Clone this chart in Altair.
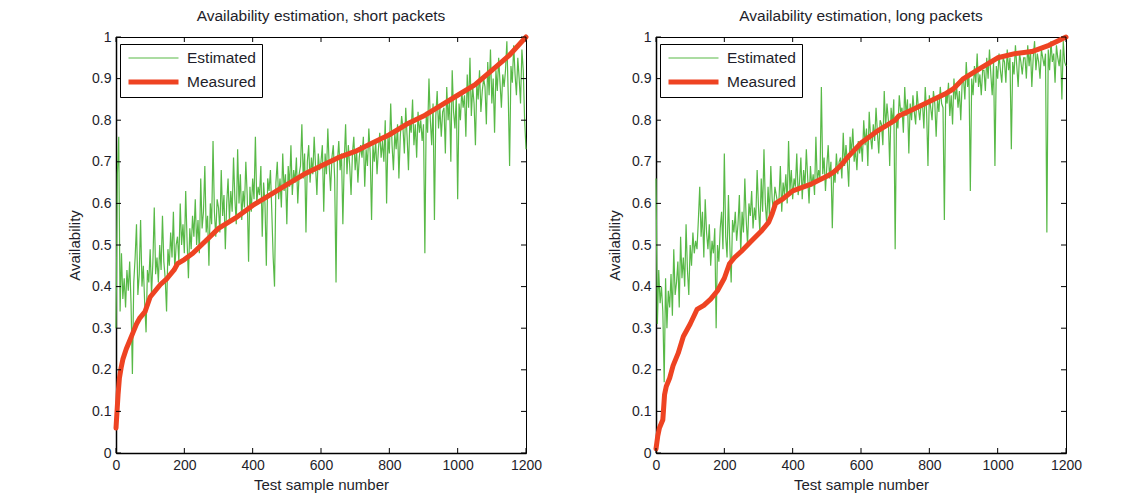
import altair as alt
import pandas as pd

# ---------------- data ----------------
x_est = list(range(0, 1201, 4))

short_est = [
    0.30, 0.67, 0.76, 0.34, 0.48, 0.37, 0.42, 0.35, 0.44, 0.39, 0.46, 0.36, 0.19, 0.41, 0.47,
    0.55, 0.38, 0.43, 0.56, 0.40, 0.45, 0.36, 0.29, 0.44, 0.41, 0.49, 0.38, 0.46, 0.59, 0.43,
    0.47, 0.41, 0.50, 0.44, 0.57, 0.46, 0.42, 0.34, 0.49, 0.45, 0.53, 0.47, 0.58, 0.44, 0.50,
    0.52, 0.46, 0.60, 0.50, 0.55, 0.48, 0.63, 0.51, 0.42, 0.54, 0.49, 0.57, 0.52, 0.61, 0.50,
    0.56, 0.48, 0.66, 0.54, 0.58, 0.69, 0.53, 0.57, 0.45, 0.60, 0.55, 0.75, 0.58, 0.52, 0.61,
    0.59, 0.53, 0.68, 0.57, 0.62, 0.49, 0.60, 0.66, 0.56, 0.63, 0.58, 0.71, 0.61, 0.55, 0.73,
    0.60, 0.67, 0.56, 0.63, 0.59, 0.70, 0.62, 0.46, 0.64, 0.58, 0.66, 0.61, 0.76, 0.60, 0.64,
    0.62, 0.69, 0.52, 0.65, 0.60, 0.45, 0.66, 0.63, 0.68, 0.58, 0.47, 0.40, 0.65, 0.70, 0.61,
    0.66, 0.59, 0.72, 0.63, 0.67, 0.55, 0.69, 0.64, 0.74, 0.62, 0.68, 0.65, 0.71, 0.60, 0.67,
    0.69, 0.79, 0.66, 0.72, 0.53, 0.70, 0.74, 0.65, 0.71, 0.67, 0.76, 0.69, 0.62, 0.72, 0.68,
    0.70, 0.74, 0.58, 0.72, 0.67, 0.78, 0.69, 0.63, 0.71, 0.74, 0.66, 0.41, 0.70, 0.75, 0.68,
    0.72, 0.55, 0.70, 0.79, 0.67, 0.74, 0.69, 0.62, 0.72, 0.76, 0.68, 0.73, 0.65, 0.71, 0.74,
    0.71, 0.76, 0.64, 0.73, 0.69, 0.78, 0.72, 0.56, 0.74, 0.70, 0.75, 0.67, 0.73, 0.77, 0.71,
    0.75, 0.70, 0.80, 0.60, 0.76, 0.72, 0.84, 0.74, 0.68, 0.77, 0.73, 0.79, 0.66, 0.76, 0.81,
    0.78, 0.72, 0.83, 0.76, 0.68, 0.80, 0.77, 0.85, 0.74, 0.79, 0.71, 0.82, 0.77, 0.80, 0.75,
    0.79, 0.48, 0.82, 0.77, 0.90, 0.80, 0.74, 0.84, 0.56, 0.81, 0.87, 0.78, 0.83, 0.76, 0.82,
    0.83, 0.72, 0.88, 0.80, 0.85, 0.70, 0.92, 0.82, 0.78, 0.86, 0.61, 0.84, 0.80, 0.87, 0.83,
    0.86, 0.76, 0.91, 0.83, 0.95, 0.81, 0.88, 0.84, 0.74, 0.89, 0.85, 0.92, 0.82, 0.87, 0.90,
    0.88, 0.79, 0.94, 0.86, 0.97, 0.84, 0.90, 0.77, 0.92, 0.87, 0.95, 0.89, 0.83, 0.91, 0.88,
    0.92, 0.99, 0.86, 0.69, 0.93, 0.89, 0.98, 0.91, 0.86, 0.95, 0.90, 0.84, 0.97, 0.92, 0.80,
    0.73,
]

long_est = [
    0.66, 0.31, 0.44, 0.36, 0.40, 0.34, 0.17, 0.42, 0.30, 0.39, 0.35, 0.43, 0.33, 0.49, 0.38,
    0.41, 0.46, 0.35, 0.52, 0.42, 0.47, 0.40, 0.55, 0.44, 0.38, 0.50, 0.45, 0.53, 0.48, 0.51,
    0.49, 0.56, 0.64, 0.52, 0.58, 0.47, 0.61, 0.53, 0.49, 0.55, 0.45, 0.51, 0.48, 0.54, 0.30,
    0.50, 0.46, 0.54, 0.58, 0.49, 0.72, 0.52, 0.47, 0.62, 0.50, 0.41, 0.56, 0.53, 0.58, 0.51,
    0.55, 0.62, 0.48, 0.58, 0.53, 0.66, 0.56, 0.50, 0.60, 0.57, 0.63, 0.54, 0.59, 0.56, 0.68,
    0.59, 0.53, 0.66, 0.58, 0.73, 0.60, 0.55, 0.64, 0.57, 0.69, 0.61, 0.58, 0.64, 0.62, 0.60,
    0.61, 0.69, 0.58, 0.65, 0.62, 0.67, 0.60, 0.75, 0.63, 0.68, 0.61, 0.66, 0.64, 0.72, 0.62,
    0.65, 0.71, 0.61, 0.68, 0.64, 0.73, 0.66, 0.60, 0.69, 0.64, 0.67, 0.62, 0.76, 0.65, 0.68,
    0.66, 0.88, 0.67, 0.71, 0.63, 0.69, 0.74, 0.66, 0.70, 0.54, 0.68, 0.65, 0.72, 0.67, 0.70,
    0.71, 0.66, 0.77, 0.69, 0.74, 0.70, 0.64, 0.76, 0.72, 0.78, 0.70, 0.73, 0.68, 0.75, 0.72,
    0.75, 0.70, 0.80, 0.74, 0.78, 0.69, 0.82, 0.76, 0.73, 0.79, 0.75, 0.83, 0.77, 0.72, 0.80,
    0.79, 0.74, 0.87, 0.78, 0.84, 0.80, 0.69, 0.83, 0.79, 0.85, 0.49, 0.81, 0.78, 0.86, 0.82,
    0.83, 0.77, 0.88, 0.81, 0.85, 0.72, 0.84, 0.80, 0.86, 0.82, 0.79, 0.87, 0.83, 0.80, 0.84,
    0.84, 0.78, 0.88, 0.82, 0.69, 0.86, 0.83, 0.80, 0.87, 0.84, 0.76, 0.85, 0.82, 0.88, 0.84,
    0.83, 0.56, 0.87, 0.84, 0.89, 0.81, 0.86, 0.79, 0.90, 0.85, 0.88, 0.83, 0.87, 0.80, 0.89,
    0.90, 0.85, 0.94, 0.88, 0.91, 0.63, 0.90, 0.86, 0.93, 0.89, 0.96, 0.88, 0.91, 0.86, 0.92,
    0.92, 0.87, 0.95, 0.90, 0.97, 0.91, 0.86, 0.94, 0.69, 0.93, 0.90, 0.96, 0.92, 0.89, 0.95,
    0.94, 0.89, 0.97, 0.92, 0.95, 0.73, 0.94, 0.91, 0.98, 0.93, 0.88, 0.96, 0.94, 0.91, 0.95,
    0.95, 0.90, 0.98, 0.93, 0.97, 0.88, 0.95, 0.99, 0.92, 0.96, 0.94, 0.90, 0.97, 0.95, 0.93,
    0.96, 0.53, 0.97, 0.92, 0.99, 0.94, 0.96, 0.89, 0.98, 0.95, 0.93, 0.97, 0.85, 0.99, 0.94,
    0.93,
]

short_meas_x = [0, 3, 6, 10, 15, 20, 30, 40, 50, 60, 70, 85, 100, 115, 130, 150,
                170, 180, 200, 225, 250, 275, 300, 350, 400, 450, 500, 550, 600,
                650, 700, 750, 800, 850, 900, 950, 1000, 1050, 1100, 1150, 1200]
short_meas_y = [0.06, 0.10, 0.14, 0.18, 0.205, 0.225, 0.25, 0.27, 0.29, 0.31, 0.325,
                0.34, 0.375, 0.39, 0.405, 0.42, 0.44, 0.455, 0.465, 0.48, 0.50, 0.52,
                0.54, 0.565, 0.595, 0.62, 0.645, 0.67, 0.69, 0.71, 0.725, 0.745,
                0.765, 0.79, 0.81, 0.835, 0.86, 0.885, 0.92, 0.955, 1.0]

long_meas_x = [0, 5, 10, 20, 25, 30, 40, 50, 65, 80, 100, 120, 140, 160, 180, 200,
               215, 230, 250, 280, 310, 330, 340, 350, 370, 400, 450, 500, 520, 540,
               560, 600, 650, 700, 710, 750, 800, 850, 870, 900, 950, 1000, 1050,
               1100, 1150, 1200]
long_meas_y = [0.01, 0.04, 0.06, 0.08, 0.14, 0.16, 0.18, 0.21, 0.24, 0.28, 0.31,
               0.345, 0.355, 0.37, 0.39, 0.42, 0.455, 0.47, 0.485, 0.51, 0.535,
               0.555, 0.575, 0.60, 0.61, 0.63, 0.645, 0.665, 0.675, 0.69, 0.71,
               0.745, 0.775, 0.80, 0.81, 0.825, 0.845, 0.865, 0.875, 0.90, 0.925,
               0.95, 0.96, 0.965, 0.98, 1.0]

x_ticks = [0, 200, 400, 600, 800, 1000, 1200]
y_ticks = [0, 0.1, 0.2, 0.3, 0.4, 0.5, 0.6, 0.7, 0.8, 0.9, 1]
panel_titles = ["Availability estimation, short packets",
                "Availability estimation, long packets"]
series_names = ["Estimated", "Measured"]
series_colors = ["#58b947", "#ee4322"]
series_widths = [1.2, 5]

# ---------------- chart ----------------
W, H = 410, 416
FONT = "Liberation Sans"
TXT = "#1e1e2a"


def panel(est, mx, my, title):
    df_est = pd.DataFrame({"x": x_est, "y": est, "series": "Estimated"})
    df_meas = pd.DataFrame({"x": mx, "y": my, "series": "Measured"})
    xs = alt.Scale(domain=[0, 1200], nice=False, zero=False)
    ys = alt.Scale(domain=[0, 1], nice=False, zero=False)
    leg = alt.Legend(title=None, orient="none", legendX=4, legendY=7,
                     symbolType="stroke", symbolSize=2500, clipHeight=16,
                     labelFontSize=15.5, labelFont=FONT, labelColor=TXT,
                     strokeColor="black", fillColor="white", padding=6,
                     rowPadding=7, labelOffset=6, cornerRadius=0)
    color = alt.Color("series:N", scale=alt.Scale(domain=series_names, range=series_colors), legend=leg)
    sw = alt.StrokeWidth("series:O", scale=alt.Scale(domain=series_names, range=series_widths), legend=leg)
    xaxis = alt.Axis(values=x_ticks, format="d", title="Test sample number", labelFlush=False)
    yaxis = alt.Axis(values=y_ticks, format="~g", title="Availability", labelFlush=False)
    xenc = alt.X("x:Q", scale=xs, axis=xaxis)
    yenc = alt.Y("y:Q", scale=ys, axis=yaxis)

    est_line = alt.Chart(df_est).mark_line().encode(x=xenc, y=yenc, color=color, strokeWidth=sw)
    meas_line = alt.Chart(df_meas).mark_line(strokeJoin="round", strokeCap="round").encode(
        x=xenc, y=yenc, color=color, strokeWidth=sw)

    xt = pd.DataFrame({"x": x_ticks})
    yt = pd.DataFrame({"y": y_ticks})
    tick_b = alt.Chart(xt).mark_rule(color="black").encode(
        x=xenc, y=alt.value(H), y2=alt.value(H - 5))
    tick_t = alt.Chart(xt).mark_rule(color="black").encode(
        x=xenc, y=alt.value(0), y2=alt.value(5))
    tick_l = alt.Chart(yt).mark_rule(color="black").encode(
        y=yenc, x=alt.value(0), x2=alt.value(5))
    tick_r = alt.Chart(yt).mark_rule(color="black").encode(
        y=yenc, x=alt.value(W - 5), x2=alt.value(W))

    return alt.layer(est_line, meas_line, tick_b, tick_t, tick_l, tick_r).properties(
        width=W, height=H,
        title=alt.Title(title, fontSize=15.5, font=FONT, fontWeight="normal", color=TXT, offset=6),
    )


left = panel(short_est, short_meas_x, short_meas_y, panel_titles[0])
right = panel(long_est, long_meas_x, long_meas_y, panel_titles[1])

chart = alt.hconcat(left, right, spacing=130, bounds="flush").resolve_scale(
    color="independent", strokeWidth="independent"
).resolve_legend(
    color="independent", strokeWidth="independent"
).properties(
    padding={"left": 59, "top": 0, "right": 5, "bottom": 0}
).configure_view(
    stroke="black", strokeWidth=1
).configure_axis(
    domainColor="black", domainWidth=1.5, ticks=False, grid=False,
    labelPadding=5, labelFontSize=14, titleFontSize=15, titleFontWeight="normal",
    labelFont=FONT, titleFont=FONT, labelColor=TXT, titleColor=TXT,
).configure_axisY(titlePadding=9).configure_axisX(titlePadding=5)

chart.save("out.html", embed_options={"renderer": "svg", "actions": False})
